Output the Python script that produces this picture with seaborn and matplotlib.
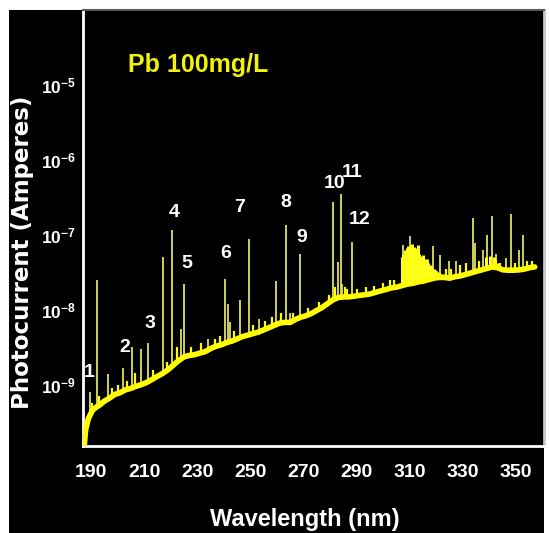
import numpy as np
import matplotlib
matplotlib.use("Agg")
import matplotlib.pyplot as plt
from matplotlib.patches import Rectangle
from matplotlib.ticker import FixedLocator, FixedFormatter, MultipleLocator
import seaborn as sns
import pandas as pd

# ---- spectrum data (Pb 100 mg/L emission, photocurrent in amperes) ----
baseline_nm = [187.3, 188.0, 189.0, 190.5, 192.0, 193.5, 195.0, 197.0, 199.0, 201.0,
               203.0, 205.0, 207.0, 209.0, 211.0, 213.0, 215.0, 217.0, 219.0, 221.0,
               223.0, 225.0, 227.0, 229.0, 231.0, 233.0, 235.0, 237.0, 239.0, 241.0,
               243.0, 245.0, 247.0, 249.0, 251.0, 253.0, 255.0, 257.0, 259.0, 261.0,
               263.0, 265.0, 267.0, 269.0, 271.0, 273.0, 275.0, 277.0, 279.0, 281.0,
               283.0, 285.0, 287.0, 289.0, 291.0, 293.0, 295.0, 297.0, 299.0, 301.0,
               303.0, 305.0, 307.0, 309.0, 311.0, 313.0, 315.0, 317.0, 319.0, 321.0,
               323.0, 325.0, 327.0, 329.0, 331.0, 333.0, 335.0, 337.0, 339.0, 341.0,
               343.0, 345.0, 347.0, 349.0, 351.0, 353.0, 355.0, 357.0]
baseline_amp = [1.3e-10, 2.5e-10, 3.5e-10, 4.5e-10, 5.0e-10, 5.4e-10, 6.0e-10, 6.6e-10, 7.4e-10, 7.8e-10,
                8.5e-10, 8.9e-10, 9.5e-10, 1.0e-9, 1.07e-9, 1.17e-9, 1.29e-9, 1.41e-9, 1.58e-9, 1.82e-9,
                2.09e-9, 2.34e-9, 2.45e-9, 2.51e-9, 2.63e-9, 2.75e-9, 3.02e-9, 3.24e-9, 3.39e-9, 3.63e-9,
                3.80e-9, 4.07e-9, 4.37e-9, 4.57e-9, 4.79e-9, 5.01e-9, 5.37e-9, 5.75e-9, 6.17e-9, 6.61e-9,
                6.76e-9, 6.76e-9, 7.41e-9, 7.94e-9, 8.32e-9, 8.91e-9, 9.77e-9, 1.07e-8, 1.20e-8, 1.35e-8,
                1.45e-8, 1.48e-8, 1.48e-8, 1.51e-8, 1.55e-8, 1.58e-8, 1.62e-8, 1.70e-8, 1.78e-8, 1.86e-8,
                1.95e-8, 2.00e-8, 2.09e-8, 2.19e-8, 2.24e-8, 2.34e-8, 2.40e-8, 2.51e-8, 2.63e-8, 2.69e-8,
                2.69e-8, 2.63e-8, 2.75e-8, 2.82e-8, 2.95e-8, 3.09e-8, 3.24e-8, 3.39e-8, 3.55e-8, 3.72e-8,
                3.63e-8, 3.40e-8, 3.36e-8, 3.36e-8, 3.39e-8, 3.47e-8, 3.63e-8, 3.72e-8]

# emission lines: wavelength (nm) and peak photocurrent (A)
line_nm = [189.6, 192.4, 196.5, 201.9, 205.3, 208.8, 211.5, 217.2, 220.6, 224.0,
           225.1, 234.1, 240.6, 241.4, 242.3, 246.0, 249.4, 253.2, 259.5, 263.3,
           264.8, 268.8, 281.1, 283.0, 284.0, 284.6, 288.2, 307.4, 310.2, 318.7,
           321.4, 324.7, 327.2, 333.7, 334.4, 337.7, 339.0, 341.0, 342.5, 346.3,
           347.9, 351.0, 352.5]
line_amp = [7.9e-10, 2.5e-8, 1.4e-9, 1.66e-9, 3.2e-9, 2.95e-9, 3.55e-9, 5.0e-8, 1.17e-7, 5.6e-9,
            2.2e-8, 4.0e-9, 2.6e-8, 1.2e-8, 6.8e-9, 1.35e-8, 8.9e-8, 7.6e-9, 2.4e-8, 1.35e-7,
            8.9e-9, 5.6e-8, 2.7e-7, 4.3e-8, 3.5e-7, 2.2e-8, 8.1e-8, 7.4e-8, 9.5e-8, 7.1e-8,
            5.4e-8, 4.4e-8, 4.4e-8, 1.66e-7, 7.8e-8, 6.3e-8, 9.8e-8, 1.8e-7, 5.6e-8, 4.9e-8,
            1.9e-7, 6.3e-8, 1.0e-7]

# weak structure riding on the continuum
fine_nm = [190.5, 193.0, 194.0, 198.0, 200.0, 203.5, 206.5, 213.5, 218.5, 222.5,
           227.5, 231.5, 236.5, 238.5, 244.0, 251.0, 255.5, 258.0, 261.5, 266.0,
           271.5, 276.0, 279.5, 282.0, 285.5, 286.5, 290.0, 293.5, 296.5, 300.0,
           302.5, 304.0, 323.5, 325.5, 329.0, 331.0, 336.0, 344.0, 349.5, 354.0, 356.0]
fine_amp = [5.6e-10, 7.1e-10, 6.3e-10, 8.9e-10, 1.0e-9, 1.12e-9, 1.41e-9, 1.58e-9, 2.0e-9, 3.2e-9,
            3.2e-9, 3.55e-9, 4.0e-9, 4.5e-9, 5.2e-9, 6.3e-9, 7.1e-9, 7.9e-9, 8.9e-9, 8.9e-9,
            1.05e-8, 1.26e-8, 1.58e-8, 2.0e-8, 2.0e-8, 1.9e-8, 1.9e-8, 2.0e-8, 2.1e-8, 2.3e-8,
            2.5e-8, 2.5e-8, 3.5e-8, 3.5e-8, 4.0e-8, 4.2e-8, 4.5e-8, 4.2e-8, 4.2e-8, 4.5e-8, 4.5e-8]

# molecular band structure (dense lines) near 307-322 nm and 338-343 nm
band_nm = [307.0, 307.5, 308.0, 308.5, 309.0, 309.5, 310.0, 310.5, 311.0, 311.5,
           312.0, 312.5, 313.0, 313.5, 314.0, 314.5, 315.0, 315.5, 316.0, 316.5,
           317.0, 317.5, 318.0, 318.5, 319.0, 319.5, 320.0, 321.0, 322.0,
           338.5, 340.0, 341.5, 342.0, 343.0]
band_amp = [5.0e-8, 5.6e-8, 6.3e-8, 6.0e-8, 6.6e-8, 7.1e-8, 6.3e-8, 7.2e-8, 7.6e-8, 6.9e-8,
            6.6e-8, 6.0e-8, 7.2e-8, 5.6e-8, 5.2e-8, 5.0e-8, 5.4e-8, 4.7e-8, 4.5e-8, 4.8e-8,
            4.2e-8, 4.0e-8, 3.8e-8, 3.6e-8, 3.5e-8, 3.4e-8, 3.3e-8, 3.2e-8, 3.0e-8,
            5.0e-8, 5.2e-8, 5.0e-8, 4.7e-8, 4.2e-8]

# numbered Pb lines
label_text = ["1", "2", "3", "4", "5", "6", "7", "8", "9", "10", "11", "12"]
label_nm = [189.6, 201.9, 211.5, 220.6, 225.1, 240.6, 249.4, 263.3, 268.8, 281.1, 284.0, 288.2]

x_ticks = [190, 210, 230, 250, 270, 290, 310, 330, 350]
y_ticks = [1e-9, 1e-8, 1e-7, 1e-6, 1e-5]
y_tick_labels = [r"$\mathrm{10^{-9}}$", r"$\mathrm{10^{-8}}$", r"$\mathrm{10^{-7}}$",
                 r"$\mathrm{10^{-6}}$", r"$\mathrm{10^{-5}}$"]

# ---- style ----
sns.set_style("dark")
sans = ["Liberation Sans", "DejaVu Sans"]
plt.rcParams["font.family"] = sans
plt.rcParams["font.weight"] = "bold"
plt.rcParams["mathtext.fontset"] = "custom"
plt.rcParams["mathtext.rm"] = "Liberation Sans:bold"
plt.rcParams["mathtext.it"] = "Liberation Sans:bold"
plt.rcParams["mathtext.bf"] = "Liberation Sans:bold"

W, H = 549, 533
fig = plt.figure(figsize=(W / 100, H / 100), dpi=100, facecolor="white")
panel = Rectangle((9 / W, 0), (544 - 9) / W, (533 - 10) / H,
                  transform=fig.transFigure, facecolor="black", edgecolor="none")
panel.set_zorder(-10)
fig.patches.append(panel)
ax = fig.add_axes([83 / W, (533 - 446) / H, (544 - 83) / W, 436 / H])
ax.set_zorder(1)
ax.set_facecolor("black")

ax.set_yscale("log")
ax.set_xlim(187.0, 360.5)
ax.set_ylim(10 ** -9.82, 1e-4)

base_x = np.array(baseline_nm)
base_y = np.array(baseline_amp)

# emission lines rise from the continuum
line_floor = np.interp(line_nm, base_x, base_y)
ax.vlines(line_nm, line_floor, line_amp, colors="#e0e060", linewidth=1.3, zorder=2)
fine_floor = np.interp(fine_nm, base_x, base_y)
ax.vlines(fine_nm, fine_floor, fine_amp, colors="#ffff00", linewidth=1.6, zorder=3)
band_floor = np.interp(band_nm, base_x, base_y)
ax.vlines(band_nm, band_floor, band_amp, colors="#ffff1a", linewidth=2.2, zorder=3)

# continuum
df = pd.DataFrame({"nm": baseline_nm, "amp": baseline_amp})
sns.lineplot(data=df, x="nm", y="amp", ax=ax, color="#ffff00", linewidth=4.0,
             zorder=4, estimator=None, sort=True)

# numbered line labels
offsets = [(-1, 20), (2, 21), (2, 20), (2, 17), (3, 21), (0, 25),
           (-9, 31), (0, 22), (1, 16), (2, 19), (11, 21), (8, 22)]
line_lookup = dict(zip(line_nm, line_amp))
for txt, nm, (dx, dy) in zip(label_text, label_nm, offsets):
    ax.annotate(txt, xy=(nm, line_lookup[nm]), xytext=(dx, dy),
                textcoords="offset pixels", ha="center", va="center",
                color="white", fontsize=14, fontweight="bold", family=sans)

ax.text(0.097, 0.874, "Pb 100mg/L", transform=ax.transAxes, ha="left", va="center",
        color="#f2f20a", fontsize=18, fontweight="bold", family=sans)

# axes, ticks
ax.xaxis.set_major_locator(FixedLocator(x_ticks))
ax.xaxis.set_minor_locator(MultipleLocator(10))
ax.yaxis.set_major_locator(FixedLocator(y_ticks))
ax.yaxis.set_major_formatter(FixedFormatter(y_tick_labels))
ax.tick_params(axis="x", which="both", direction="in", colors="white", labelcolor="white",
               labelsize=14, pad=13, length=3, width=1)
ax.tick_params(axis="y", which="major", direction="in", colors="white", labelcolor="white",
               labelsize=12.5, pad=5, length=4, width=1)
ax.tick_params(axis="y", which="minor", direction="in", colors="white", length=2, width=0.8)
for lab in ax.get_xticklabels() + ax.get_yticklabels():
    lab.set_fontweight("bold")
ax.set_xlabel("")
ax.set_ylabel("")
ax.grid(False)
for side, col, lw in [("left", "white", 2.0), ("bottom", "white", 2.0),
                      ("right", "#c8c8c8", 2.0), ("top", "#5a5a5a", 1.5)]:
    ax.spines[side].set_visible(True)
    ax.spines[side].set_color(col)
    ax.spines[side].set_linewidth(lw)

fig.text(23 / W, 1 - 252 / H, "Photocurrent (Amperes)", rotation=90, ha="center",
         va="center", color="white", fontsize=16.5, fontweight="bold", family="DejaVu Sans")
fig.text(305 / W, 7 / H, "Wavelength (nm)", ha="center", va="baseline", color="white",
         fontsize=17, fontweight="bold", family=sans)

fig.savefig("out.png", dpi=100, facecolor="white")
